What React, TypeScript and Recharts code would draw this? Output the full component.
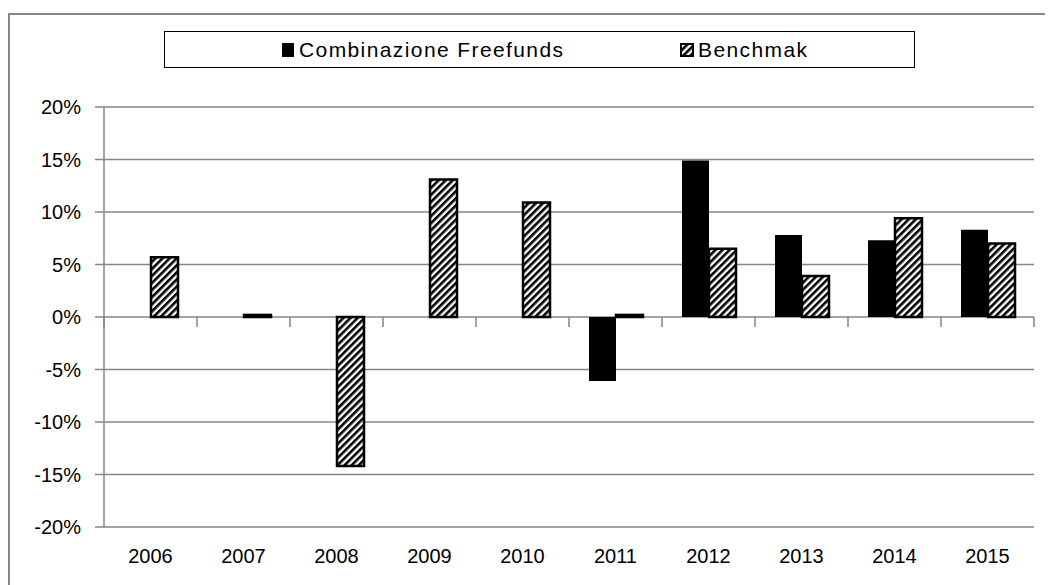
import { BarChart, Bar, XAxis, YAxis, CartesianGrid } from 'recharts'

const years = ['2006', '2007', '2008', '2009', '2010', '2011', '2012', '2013', '2014', '2015']
const freefunds = [null, null, null, null, null, -0.061, 0.149, 0.078, 0.073, 0.083]
const benchmark = [0.057, 0.002, -0.142, 0.131, 0.109, 0.002, 0.065, 0.039, 0.094, 0.07]
const yTicks = [-0.2, -0.15, -0.1, -0.05, 0, 0.05, 0.1, 0.15, 0.2]
const seriesNames = ['Combinazione Freefunds', 'Benchmak']

const W = 1045
const H = 577
const MARGIN = { top: 99, right: 19, bottom: 8, left: 36 }
const Y_AXIS_W = 60
const X_AXIS_H = 50
const PLOT_W = W - MARGIN.left - MARGIN.right - Y_AXIS_W
const PLOT_H = H - MARGIN.top - MARGIN.bottom - X_AXIS_H
const Y_MIN = -0.2
const Y_MAX = 0.2
const GRID = '#868686'
const FONT = '"Liberation Sans", Arial, sans-serif'

const data = years.map((y, i) => ({ year: y, freefunds: freefunds[i], benchmark: benchmark[i] }))

function YearTick(props: any) {
  const { x, y, payload, index } = props
  const band = PLOT_W / years.length
  const zeroY = MARGIN.top + (PLOT_H * Y_MAX) / (Y_MAX - Y_MIN)
  return (
    <g>
      <line x1={x - band / 2} x2={x - band / 2} y1={zeroY} y2={zeroY + 10} stroke={GRID} strokeWidth={1.5} />
      {index === years.length - 1 && (
        <line x1={x + band / 2} x2={x + band / 2} y1={zeroY} y2={zeroY + 10} stroke={GRID} strokeWidth={1.5} />
      )}
      <text x={x} y={y + 28} textAnchor="middle" fill="#000" fontSize={20} fontFamily={FONT}>
        {payload.value}
      </text>
    </g>
  )
}

function HatchIcon() {
  return (
    <svg width={14} height={14} style={{ display: 'block' }}>
      <rect x={1} y={1} width={12} height={12} fill="url(#hatchSmall)" stroke="#000" strokeWidth={2} />
      <defs>
        <pattern id="hatchSmall" patternUnits="userSpaceOnUse" width={5} height={5} patternTransform="rotate(45)">
          <rect x={0} y={0} width={5} height={5} fill="#fff" />
          <rect x={0} y={0} width={2.6} height={5} fill="#000" />
        </pattern>
      </defs>
    </svg>
  )
}

export default function App() {
  return (
    <div style={{ position: 'relative', width: W, height: H, overflow: 'hidden', background: '#fff' }}>
      <div
        style={{
          position: 'absolute',
          left: 0,
          top: 5,
          width: 1100,
          height: 700,
          border: `2px solid ${GRID}`,
          boxSizing: 'border-box',
        }}
      />
      <BarChart
        width={W}
        height={H}
        data={data}
        margin={MARGIN}
        barGap={0}
        barSize={27}
        style={{ position: 'absolute', left: 0, top: 0 }}
      >
        <defs>
          <pattern id="hatch" patternUnits="userSpaceOnUse" width={5} height={5} patternTransform="rotate(45)">
            <rect x={0} y={0} width={5} height={5} fill="#fff" />
            <rect x={0} y={0} width={2.6} height={5} fill="#000" />
          </pattern>
        </defs>
        <CartesianGrid vertical={false} stroke={GRID} strokeWidth={1.5} />
        <XAxis
          dataKey="year"
          axisLine={false}
          tickLine={false}
          interval={0}
          height={X_AXIS_H}
          tick={<YearTick />}
        />
        <YAxis
          domain={[Y_MIN, Y_MAX]}
          ticks={yTicks}
          width={Y_AXIS_W}
          axisLine={{ stroke: GRID, strokeWidth: 1.5 }}
          tickLine={{ stroke: GRID, strokeWidth: 1.5 }}
          tickSize={9}
          tickMargin={14}
          tickFormatter={(v: number) => `${Math.round(v * 100)}%`}
          tick={{ fill: '#000', fontSize: 20, fontFamily: FONT }}
          allowDataOverflow
        />
        <Bar dataKey="freefunds" name={seriesNames[0]} fill="#000" isAnimationActive={false} />
        <Bar
          dataKey="benchmark"
          name={seriesNames[1]}
          fill="url(#hatch)"
          stroke="#000"
          strokeWidth={2.5}
          isAnimationActive={false}
        />
      </BarChart>
      <div
        style={{
          position: 'absolute',
          left: 156,
          top: 23,
          width: 751,
          height: 37,
          border: '1.5px solid #000',
          boxSizing: 'border-box',
          background: '#fff',
          fontFamily: FONT,
          fontSize: 21,
          letterSpacing: 1.4,
          color: '#000',
        }}
      >
        <div style={{ position: 'absolute', left: 117, top: 6, display: 'flex', alignItems: 'center', gap: 5 }}>
          <div style={{ width: 12, height: 14, background: '#000' }} />
          <span>{seriesNames[0]}</span>
        </div>
        <div style={{ position: 'absolute', left: 515, top: 6, display: 'flex', alignItems: 'center', gap: 4 }}>
          <HatchIcon />
          <span>{seriesNames[1]}</span>
        </div>
      </div>
    </div>
  )
}
